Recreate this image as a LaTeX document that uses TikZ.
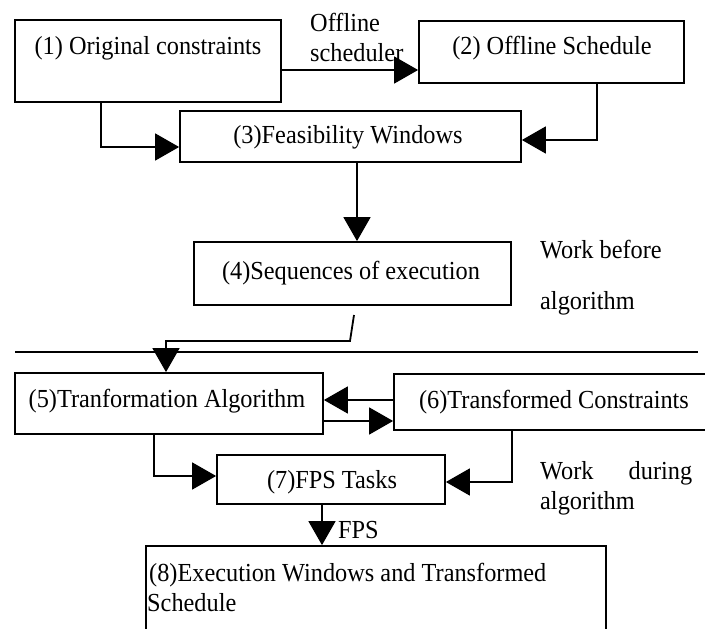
\documentclass[tikz,border=0pt]{standalone}
\usepackage{fontspec}
\setmainfont{Liberation Serif}
\newfontfamily\labelserif[FakeStretch=0.935]{Liberation Serif}
\usetikzlibrary{arrows.meta}
\tikzset{
  box/.style={draw, line width=1.8pt, rectangle, inner sep=0pt},
  txt/.style={inner sep=0pt, font=\labelserif\fontsize{26}{30}\selectfont},
  arr/.style={line width=1.8pt, -{Triangle[length=24pt,width=27pt]}},
  rule/.style={line width=1.8pt}
}
\begin{document}
\begin{tikzpicture}[x=1pt, y=-1pt]
  \useasboundingbox (0,0) rectangle (705,629);
  \clip (0,0) rectangle (705,629);
  \fill[white] (0,0) rectangle (705,629);

  % boxes
  \node[box, minimum width=266pt, minimum height=82pt] (b1) at (148,61) {};
  \node[box, minimum width=265pt, minimum height=62pt] (b2) at (551.5,52) {};
  \node[box, minimum width=341pt, minimum height=51pt] (b3) at (350.5,136.5) {};
  \node[box, minimum width=317pt, minimum height=63pt] (b4) at (352.5,273.5) {};
  \node[box, minimum width=308pt, minimum height=61pt] (b5) at (169,403.5) {};
  \node[box, minimum width=318pt, minimum height=56pt] (b6) at (553,402) {};
  \node[box, minimum width=228pt, minimum height=49pt] (b7) at (331,479.5) {};
  \node[box, minimum width=460pt, minimum height=104pt] (b8) at (376,598) {};

  % box texts
  \node[txt] (t1) at (148,48) {(1) Original constraints};
  \node[txt] (t2) at (552,48) {(2) Offline Schedule};
  \node[txt] (t3) at (348,137) {(3)Feasibility Windows};
  \node[txt] (t4) at (351,273) {(4)Sequences of execution};
  \node[txt] (t5) at (167,401) {(5)Tranformation Algorithm};
  \node[txt] (t6) at (554,402) {(6)Transformed Constraints};
  \node[txt] (t7) at (332,482) {(7)FPS Tasks};
  \node[txt, anchor=north west, align=left] (t8) at (147,563)
    {\hspace*{2pt}(8)Execution Windows and Transformed\\Schedule};

  % side labels
  \node[txt, anchor=west, align=left] (lofs) at (310,37) {Offline\\scheduler};
  \node[txt, anchor=west, align=left] (lwb) at (540,278) {Work before\\[21pt]algorithm};
  \node[txt, anchor=west, text width=152pt, align=left] (lwd) at (540,488)
    {Work\hfill during\\algorithm};
  \node[txt, anchor=west] (lfps) at (338,530) {FPS};

  % routing points
  \coordinate (c12) at (0,70);
  \coordinate (c13) at (101,147);
  \coordinate (c23) at (597,140);
  \coordinate (c34) at (357,0);
  \coordinate (s4) at (354,315);
  \coordinate (k45) at (350,341);
  \coordinate (x5) at (166,0);
  \coordinate (y65) at (0,400);
  \coordinate (y56) at (0,421);
  \coordinate (c57) at (154,476);
  \coordinate (c67) at (512,482);
  \coordinate (c78) at (322,0);
  \coordinate (dl) at (15,352);
  \coordinate (dr) at (698,352);

  % connectors
  \draw[arr] (b1.east |- c12) -- (b2.west |- c12);
  \draw[arr] (b1.south -| c13) |- (b3.west |- c13);
  \draw[arr] (b2.south -| c23) |- (b3.east |- c23);
  \draw[arr] (b3.south -| c34) -- (b4.north -| c34);
  \draw[arr] (s4) -- (k45) -| (b5.north -| x5);
  \draw[arr] (b6.west |- y65) -- (b5.east |- y65);
  \draw[arr] (b5.east |- y56) -- (b6.west |- y56);
  \draw[arr] (b5.south -| c57) |- (b7.west |- c57);
  \draw[arr] (b6.south -| c67) |- (b7.east |- c67);
  \draw[arr] (b7.south -| c78) -- (b8.north -| c78);

  % divider between the two phases
  \draw[rule] (dl) -- (dr);
\end{tikzpicture}
\end{document}
